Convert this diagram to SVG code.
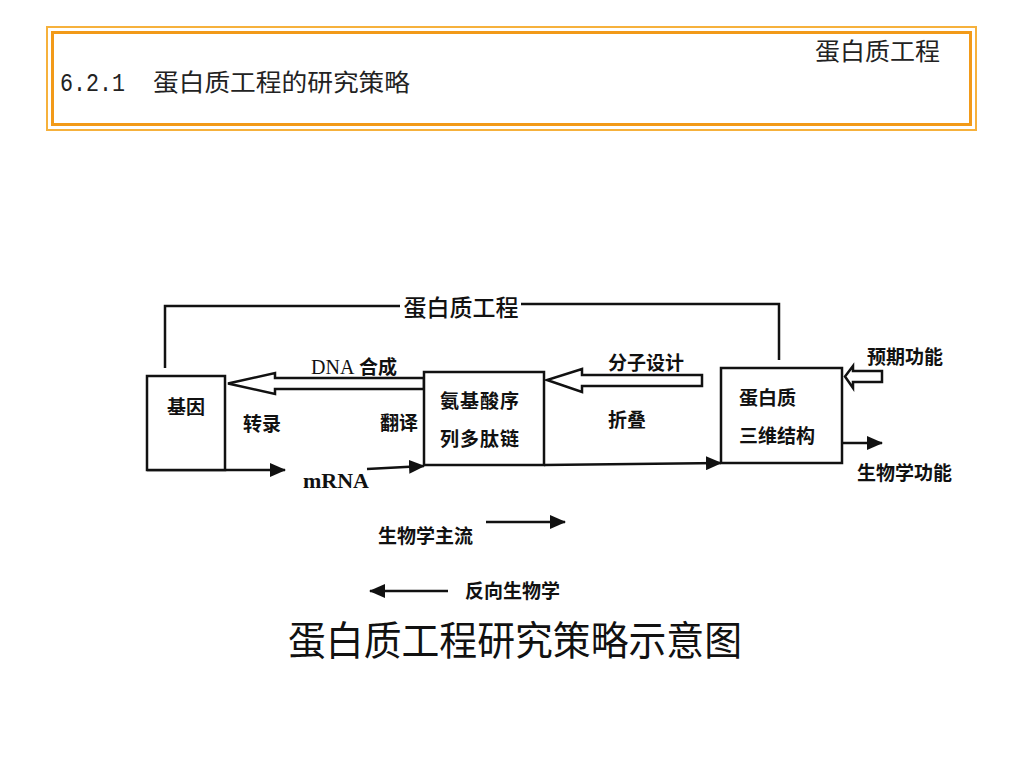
<svg xmlns="http://www.w3.org/2000/svg" width="1024" height="768" viewBox="0 0 1024 768">
<defs>
<style>
.cjk{font-family:"Noto Sans CJK SC","Noto Sans",sans-serif;fill:#111}
.lbl{font-size:19px;font-weight:bold}
.ser{font-family:"Liberation Serif","Noto Sans CJK SC",serif;fill:#111}
.box{fill:#fff;stroke:#111;stroke-width:2.5}
.ln{fill:none;stroke:#111;stroke-width:2.5}
.hollow{fill:#fff;stroke:#111;stroke-width:2.5;stroke-linejoin:miter}
</style>
<marker id="ahL" markerWidth="16" markerHeight="14" refX="15" refY="7" orient="auto" markerUnits="userSpaceOnUse" viewBox="0 0 16 14">
<path d="M0,0 L16,7 L0,14 Z" fill="#111"/>
</marker>
</defs>
<rect width="1024" height="768" fill="#fff"/>
<g id="header">
<rect x="47" y="27" width="929" height="103" fill="none" stroke="#f6b13c" stroke-width="2"/>
<rect x="52.5" y="32.5" width="918" height="92" fill="none" stroke="#f29a18" stroke-width="3"/>
<text x="815" y="60" class="cjk" style="font-size:24px;fill:#222" textLength="125" lengthAdjust="spacingAndGlyphs">蛋白质工程</text>
<text x="60" y="91" style="font-family:'Liberation Mono',monospace;font-size:26px;fill:#222" textLength="65" lengthAdjust="spacingAndGlyphs">6.2.1</text>
<text x="153" y="91" class="cjk" style="font-size:24px;fill:#222" textLength="257" lengthAdjust="spacingAndGlyphs">蛋白质工程的研究策略</text>
</g>
<g id="connectors">
<polyline class="ln" points="165,368 165,306 400,306"/>
<polyline class="ln" points="521,304 779,304 779,360"/>
<polygon class="hollow" points="424,378 275,378 275,373 228,383.5 275,394 275,389 424,389"/>
<polygon class="hollow" points="702,375 582,375 582,369 547,380 582,392 582,386 702,386"/>
<polygon class="hollow" points="882,371 853,371 853,366 845,376.5 853,388 853,382 882,382"/>
<line class="ln" x1="842" y1="443" x2="882" y2="443" marker-end="url(#ahL)"/>
<line class="ln" x1="147" y1="470" x2="285" y2="470" marker-end="url(#ahL)"/>
<line class="ln" x1="367" y1="469" x2="424" y2="466" marker-end="url(#ahL)"/>
<line class="ln" x1="544" y1="465" x2="721" y2="463" marker-end="url(#ahL)"/>
<line class="ln" x1="486" y1="522" x2="565" y2="522" marker-end="url(#ahL)"/>
<line class="ln" x1="448" y1="591" x2="370" y2="591" marker-end="url(#ahL)"/>
</g>
<g id="gene">
<rect class="box" x="147" y="376" width="78" height="94"/>
<text x="186" y="414" text-anchor="middle" class="cjk lbl">基因</text>
</g>
<g id="peptide">
<rect class="box" x="424" y="372" width="120" height="93"/>
<text x="480" y="408" text-anchor="middle" class="cjk lbl" style="letter-spacing:1px">氨基酸序</text>
<text x="480" y="446" text-anchor="middle" class="cjk lbl" style="letter-spacing:1px">列多肽链</text>
</g>
<g id="protein">
<rect class="box" x="721" y="368" width="121" height="95"/>
<text x="739" y="405" class="cjk lbl">蛋白质</text>
<text x="739" y="443" class="cjk lbl">三维结构</text>
</g>
<g id="labels">
<text x="461" y="316" text-anchor="middle" class="cjk" style="font-size:23px;font-weight:500">蛋白质工程</text>
<text x="311" y="374" class="ser" style="font-size:20px">DNA</text>
<text x="359" y="374" class="cjk lbl">合成</text>
<text x="608" y="370" class="cjk lbl">分子设计</text>
<text x="867" y="364" class="cjk lbl">预期功能</text>
<text x="243" y="431" class="cjk lbl">转录</text>
<text x="380" y="430" class="cjk lbl">翻译</text>
<text x="608" y="427" class="cjk lbl">折叠</text>
<text x="303" y="488" class="ser" style="font-size:22px;font-weight:bold">mRNA</text>
<text x="857" y="480" class="cjk lbl">生物学功能</text>
<text x="378" y="543" class="cjk lbl">生物学主流</text>
<text x="465" y="598" class="cjk lbl">反向生物学</text>
<text x="288" y="655" class="cjk" style="font-size:40px" textLength="454" lengthAdjust="spacingAndGlyphs">蛋白质工程研究策略示意图</text>
</g>
</svg>
